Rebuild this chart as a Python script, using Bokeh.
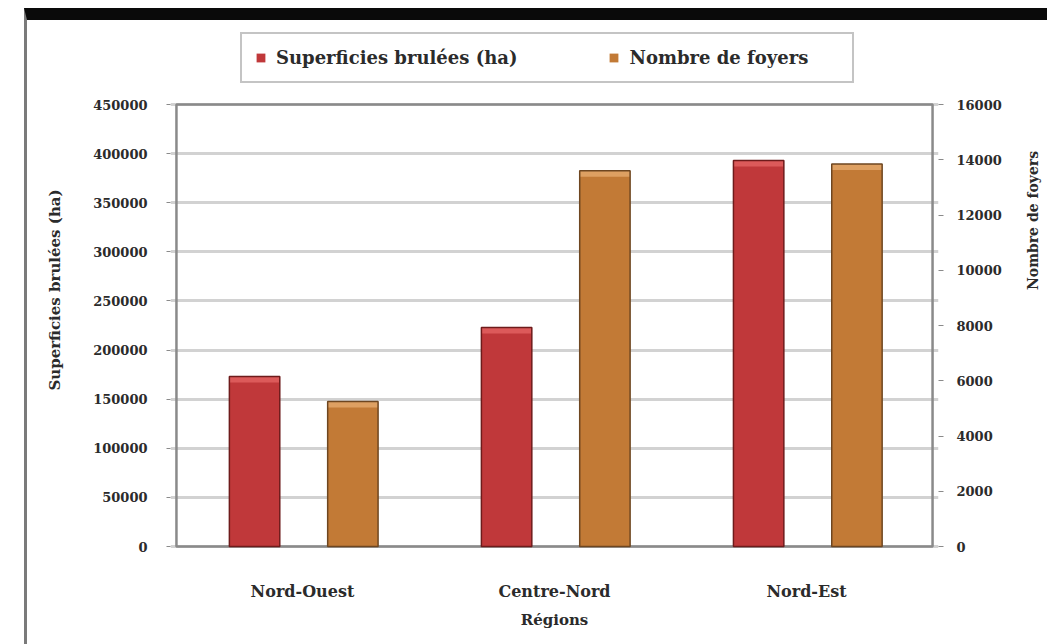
import math
from bokeh.plotting import figure
from bokeh.models import (FactorRange, Range1d, LinearAxis, Legend, LegendItem, FixedTicker,
                          ColumnDataSource, NumeralTickFormatter)
from bokeh.transform import dodge
from bokeh.embed import file_html
from bokeh.resources import INLINE

regions = ["Nord-Ouest", "Centre-Nord", "Nord-Est"]
superficies = [173000, 223000, 393000]
foyers = [5250, 13600, 13850]
left_ticks = [0, 50000, 100000, 150000, 200000, 250000, 300000, 350000, 400000, 450000]
right_ticks = [0, 2000, 4000, 6000, 8000, 10000, 12000, 14000, 16000]

LEFT_MAX = 450000
RIGHT_MAX = 16000
AXIS_PX = 442      # pixel height of the axes box
PAD_BELOW = 3      # frame extends slightly below the axes box
PAD_ABOVE = 74     # and upward to hold the legend
FRAME_PX = AXIS_PX + PAD_BELOW + PAD_ABOVE
CAP_PX = 6         # lighter top cap of each bar (3-D look)

FONT = "DejaVu Serif"
TXT = "#2b2b2b"
GRAY = "#8a8a8a"

ls = LEFT_MAX / AXIS_PX
rs = RIGHT_MAX / AXIS_PX

src = ColumnDataSource(dict(reg=regions, sup=superficies, foy=foyers,
                            sup_cap=[v - CAP_PX * ls for v in superficies],
                            foy_cap=[v - CAP_PX * rs for v in foyers]))

p = figure(x_range=FactorRange(*regions, range_padding=0.0236, range_padding_units="absolute"),
           y_range=Range1d(-PAD_BELOW * ls, (AXIS_PX + PAD_ABOVE) * ls),
           frame_width=768, frame_height=FRAME_PX, output_backend="svg", toolbar_location=None,
           min_border_left=143, min_border_right=109, min_border_top=10, min_border_bottom=95)
p.styles = {"border-top": "12px solid #0a0a0a", "border-left": "3px solid #7a7a7a",
            "margin-top": "8px", "margin-left": "24px"}
p.extra_y_ranges = {"foyers": Range1d(-PAD_BELOW * rs, (AXIS_PX + PAD_ABOVE) * rs)}
p.outline_line_color = None

p.xgrid.grid_line_color = None
p.ygrid.grid_line_color = "#d2d2d2"
p.ygrid.grid_line_width = 3
p.ygrid.ticker = FixedTicker(ticks=left_ticks)

# axes box
p.quad(left=[0], right=[len(regions)], bottom=[0], top=[LEFT_MAX],
       fill_alpha=0, line_color=GRAY, line_width=2.5)

xr = dodge("reg", -0.19, range=p.x_range)
xo = dodge("reg", 0.2, range=p.x_range)

r1 = p.vbar(x=xr, top="sup", width=0.2, source=src, fill_color="#c0383a", line_color=None)
p.vbar(x=xr, top="sup", bottom="sup_cap", width=0.2, source=src,
       fill_color="#dc5a5a", line_color=None)
p.vbar(x=xr, top="sup", width=0.2, source=src, fill_alpha=0,
       line_color="#6e1b1b", line_width=1.5)

r2 = p.vbar(x=xo, top="foy", width=0.2, source=src, y_range_name="foyers",
            fill_color="#c27a36", line_color=None)
p.vbar(x=xo, top="foy", bottom="foy_cap", width=0.2, source=src, y_range_name="foyers",
       fill_color="#dea062", line_color=None)
p.vbar(x=xo, top="foy", width=0.2, source=src, y_range_name="foyers", fill_alpha=0,
       line_color="#6e4620", line_width=1.5)

ax = p.yaxis[0]
ax.ticker = FixedTicker(ticks=left_ticks)
ax.formatter = NumeralTickFormatter(format="0")
ax.axis_label = "Superficies brulées (ha)"
ax.axis_line_color = None
ax.major_tick_line_color = GRAY
ax.major_tick_in = 0
ax.major_tick_out = 4
ax.minor_tick_line_color = None
ax.major_label_text_font = FONT
ax.major_label_text_font_style = "bold"
ax.major_label_text_font_size = "13px"
ax.major_label_text_color = TXT
ax.major_label_standoff = 19
ax.axis_label_text_font = FONT
ax.axis_label_text_font_style = "bold"
ax.axis_label_text_font_size = "15px"
ax.axis_label_text_color = TXT
ax.axis_label_standoff = 26

ra = LinearAxis(y_range_name="foyers", ticker=FixedTicker(ticks=right_ticks),
                formatter=NumeralTickFormatter(format="0"),
                axis_label="Nombre de foyers")
ra.axis_line_color = None
ra.major_tick_line_color = GRAY
ra.major_tick_in = 0
ra.major_tick_out = 5
ra.minor_tick_line_color = None
ra.major_label_text_font = FONT
ra.major_label_text_font_style = "bold"
ra.major_label_text_font_size = "13px"
ra.major_label_text_color = TXT
ra.major_label_standoff = 13
ra.axis_label_text_font = FONT
ra.axis_label_text_font_style = "bold"
ra.axis_label_text_font_size = "14px"
ra.axis_label_text_color = TXT
ra.axis_label_standoff = 28
ra.axis_label_orientation = math.pi / 2
p.add_layout(ra, "right")

xa = p.xaxis[0]
xa.axis_label = "Régions"
xa.axis_line_color = None
xa.major_tick_line_color = None
xa.minor_tick_line_color = None
xa.major_label_text_font = FONT
xa.major_label_text_font_style = "bold"
xa.major_label_text_font_size = "16px"
xa.major_label_text_color = TXT
xa.major_label_standoff = 26
xa.axis_label_text_font = FONT
xa.axis_label_text_font_style = "bold"
xa.axis_label_text_font_size = "15px"
xa.axis_label_text_color = TXT
xa.axis_label_standoff = 7

legend = Legend(items=[LegendItem(label="Superficies brulées (ha)", renderers=[r1]),
                       LegendItem(label="Nombre de foyers", renderers=[r2])],
                orientation="horizontal", location=(70, 466))
legend.label_text_font = FONT
legend.label_text_font_style = "bold"
legend.label_text_font_size = "18px"
legend.label_text_color = TXT
legend.glyph_width = 11
legend.glyph_height = 11
legend.label_standoff = 10
legend.label_width = 210
legend.spacing = 91
legend.padding = 13
legend.margin = 0
legend.border_line_color = GRAY
legend.border_line_width = 2.5
legend.background_fill_alpha = 1
p.add_layout(legend, "center")

open("out.html", "w").write(file_html(p, INLINE))
